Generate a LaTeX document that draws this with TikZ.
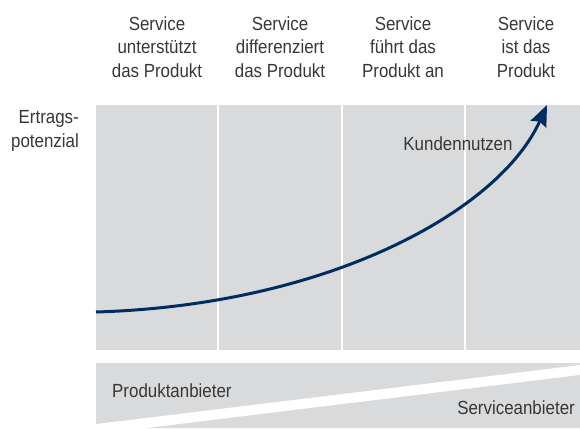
\documentclass[tikz,border=0pt]{standalone}
\usepackage{fontspec}
\setmainfont[FakeStretch=0.89]{Liberation Sans}
\usetikzlibrary{arrows.meta}
\definecolor{panelgray}{RGB}{217,218,220}
\definecolor{navy}{RGB}{0,45,95}
\definecolor{txtgray}{RGB}{55,55,55}

\begin{document}
\begin{tikzpicture}[x=1pt,y=-1pt,
  lbl/.style={font=\fontsize{19}{23.5}\selectfont, text=txtgray, inner sep=0pt},
  head/.style={lbl, align=center, anchor=base},
  divider/.style={white, line width=2pt},
  band/.style={fill=panelgray},
  curve/.style={navy, line width=3pt, -{Stealth[length=21pt,width=17pt,inset=3pt]}}]
\useasboundingbox (0,0) rectangle (580,428);
% panel with four columns
\fill [band] (96,105) rectangle (580,350);
\foreach \x in {218,342,465}
  \draw [divider] (\x,105) -- (\x,350);
% column heads
\node [head] (h1) at (157,77) {Service\\unterstützt\\das Produkt};
\node [head] (h2) at (280,77) {Service\\differenziert\\das Produkt};
\node [head] (h3) at (403,77) {Service\\führt das\\Produkt an};
\node [head] (h4) at (526,77) {Service\\ist das\\Produkt};
\node [lbl, align=right, anchor=base east] (ep) at (79,147) {Ertrags-\\potenzial};
% customer value curve
\coordinate (start) at (96,312);
\coordinate (tip) at (547,105);
\draw [curve] (start) .. controls (330,305) and (500,210) .. (tip);
\node [lbl, anchor=base] (kn) at (458,150) {Kundennutzen};
% provider band
\fill [band] (96,363) -- (580,363) -- (580,365) -- (96,424) -- cycle;
\fill [band] (147,428) -- (580,375) -- (580,428) -- cycle;
\node [lbl, anchor=base west] (pa) at (112,397) {Produktanbieter};
\node [lbl, anchor=base east] (sa) at (575,414) {Serviceanbieter};
\end{tikzpicture}
\end{document}
